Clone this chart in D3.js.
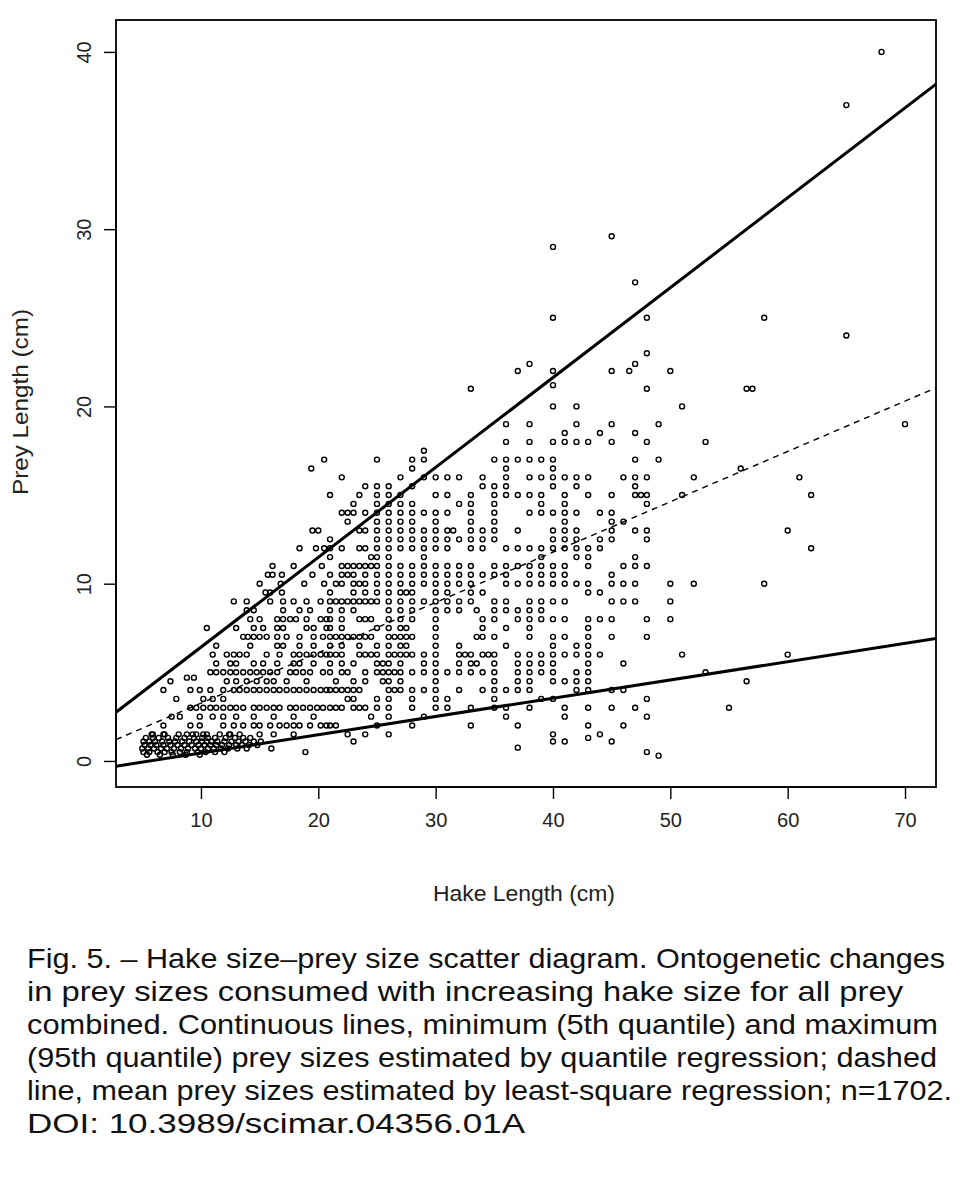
<!DOCTYPE html>
<html><head><meta charset="utf-8">
<script src="https://cdn.jsdelivr.net/npm/d3@7"></script>
<style>
html,body{margin:0;padding:0;background:#fff;}
svg{display:block;}
</style></head>
<body>
<script>
// ---------- DATA ----------
const xTicks = [10, 20, 30, 40, 50, 60, 70];
const yTicks = [0, 10, 20, 30, 40];
const xDomain = [2.76, 72.64];
const yDomain = [-1.47, 41.8];

// regression lines: [intercept, slope]
const q95Coef = [1.35, 0.507];
const q05Coef = [-0.58, 0.103];
const lsCoef  = [0.42, 0.284];

// rows: [prey length, [hake lengths...]]
const blobRows = [
  [1.5, [5.8, 6.9, 8.1, 9.3, 10.2, 11.6, 12.4]],
  [1.3, [5.3, 5.9, 6.4, 7.2, 7.9, 8.6, 9.4, 10.1, 10.6, 11.2, 12.1, 12.9, 13.6, 14.2]],
  [1.1, [5.1, 5.6, 6.1, 6.7, 7.3, 7.8, 8.4, 9.0, 9.6, 10.1, 10.5, 10.9, 11.4, 12.0, 12.6, 13.2, 13.8, 14.5, 15.1]],
  [0.9, [5.2, 5.7, 6.2, 6.8, 7.4, 8.0, 8.6, 9.2, 9.8, 10.3, 10.8, 11.3, 11.8, 12.4, 13.0, 13.5, 14.1, 14.8]],
  [0.7, [5.0, 5.5, 6.0, 6.6, 7.1, 7.7, 8.3, 8.9, 9.5, 10.0, 10.6, 11.1, 11.7, 12.3, 13.1, 13.9, 16.0]],
  [0.5, [5.1, 5.6, 6.3, 6.9, 7.5, 8.2, 8.8, 9.7, 10.4, 11.2, 12.0, 18.9]],
  [0.35,[5.4, 6.5, 7.6, 8.7, 9.9]]
];

const smallHakeRows = [
  [17,  [20.5]],
  [16.5,[19.4]],
  [13,  [19.5, 20]],
  [12,  [18.4, 19.8, 20.5]],
  [11,  [16.1, 17.9, 20.3]],
  [10.5,[15.7, 16.1, 16.9, 19.5]],
  [10,  [15, 16.8, 18.8, 20.5]],
  [9.5, [15.5, 15.9, 16.9]],
  [9,   [12.8, 13.9, 15.9, 17, 17.9, 19, 20.2]],
  [8.5, [13.9, 14.5, 17, 18.4, 19.3]],
  [8,   [14.2, 15, 16.5, 17, 17.6, 18.1, 19, 20.2, 20.7]],
  [7.5, [10.5, 13, 14.5, 15.3, 16.5, 17, 19, 19.6, 20.7]],
  [7,   [13.6, 14, 14.5, 15, 15.6, 16.5, 17.3, 18.4, 19.6, 20.4]],
  [6.5, [11.3, 14.2, 16.5, 17, 18.4, 19.6]],
  [6,   [11, 12.2, 12.8, 13.3, 13.9, 15.6, 16.7, 17.9, 18.4, 19, 19.6, 20.2, 20.7]],
  [5.5, [11.3, 12.5, 13, 14.5, 15.3, 16.5, 17.9, 18.4, 19.6]],
  [5,   [10.8, 11.3, 11.9, 12.5, 13, 13.6, 14.2, 14.75, 15.3, 15.9, 16.5, 17.6, 18.1, 18.7, 19.3, 20.4]],
  [4.7, [8.8, 9.4]],
  [4.5, [7.4, 12.2, 13, 13.9, 14.75, 15.6, 16.2, 17.3, 19]],
  [4,   [6.8, 9.1, 9.9, 10.8, 11.9, 12.8, 13.3, 13.9, 14.5, 15, 15.6, 16.2, 16.7, 17.3, 17.9, 18.4, 19, 19.6, 20.2, 20.7]],
  [3.5, [7.9, 10.2, 11, 11.9]],
  [3,   [9.1, 9.6, 10.2, 10.8, 11.3, 11.9, 12.5, 13, 13.6, 14.5, 15, 15.6, 16.2, 16.7, 17.6, 18.1, 18.7, 19.3, 19.9, 20.4]],
  [2.5, [7.5, 8.2, 9.9, 11, 11.9, 13, 14.5, 16.2, 17.9, 19.6]],
  [2,   [6.8, 9.1, 9.9, 11.9, 12.8, 13.6, 14.5, 15, 15.9, 16.7, 17.3, 17.9, 18.4, 19.3, 20.2, 20.7]],
  [1.5, [5.9, 6.8, 8.8, 9.6, 10.5, 12.5, 13.3, 15, 16.2, 17.9]]
];

const midHakeRows = [
  [22.4,[38]],
  [22,  [37]],
  [21,  [33]],
  [19,  [36, 38]],
  [18,  [36, 38]],
  [17.5,[29]],
  [17,  [25, 28, 29, 35, 36, 37, 38]],
  [16.5,[28, 36]],
  [16,  [22, 27, 29, 30, 31, 32, 34, 36, 38]],
  [15.5,[24, 25, 26, 28, 34, 35, 36]],
  [15,  [21, 23.5, 25, 26, 27, 30, 31, 33, 35, 36, 37, 38]],
  [14.5,[23, 25, 26, 27, 28, 32, 33, 35]],
  [14,  [22, 22.5, 23, 24, 25, 26, 27, 28, 29, 30, 31, 33, 35, 38]],
  [13.5,[22.5, 25, 26, 27, 28, 30, 33, 35]],
  [13,  [23.5, 24, 25, 26, 27, 28, 29, 30, 31, 31.5, 33, 34, 35, 37]],
  [12.5,[21, 25, 26, 27, 28, 29, 30, 31, 32, 33, 34, 35]],
  [12,  [21, 22, 23.5, 24, 25, 26, 27, 28, 29, 30, 31, 33, 34, 36, 37, 38]],
  [11.5,[21, 24.5, 25, 26, 29]],
  [11,  [22, 22.5, 23, 23.5, 24, 24.5, 25, 26, 27, 28, 29, 30, 31, 32, 33, 35, 36, 37, 38]],
  [10.5,[21, 22, 22.5, 23, 24, 25, 26, 27, 28, 29, 30, 31, 32, 33, 34, 35, 36, 38]],
  [10,  [21.5, 22, 23, 23.5, 24, 25, 26, 27, 28, 29, 30, 31, 32, 33, 36, 37, 38]],
  [9.5, [21, 23, 24, 25, 26, 27, 27.5, 28, 30, 31, 33, 34]],
  [9,   [21, 21.5, 22, 22.5, 23, 23.5, 24, 24.5, 25, 26, 27, 28, 29, 30, 31, 32, 33, 35, 36, 38]],
  [8.5, [21, 22, 23, 26, 27, 28, 30, 31, 32, 33.5, 35, 36, 37, 38]],
  [8,   [21, 22, 23.5, 24, 24.5, 26, 27, 28, 30, 34, 35, 37, 38]],
  [7.5, [21, 22, 25, 26, 27, 27.5, 30, 34, 36, 38]],
  [7,   [21, 21.5, 22, 22.5, 23, 23.5, 24, 24.5, 26, 26.5, 27, 27.5, 28, 30, 33.5, 34, 35, 38]],
  [6.5, [21, 22, 23.5, 25, 26, 27, 27.5, 30, 32, 36]],
  [6,   [21, 21.5, 22, 23.5, 24, 24.5, 25, 26, 26.5, 27, 27.5, 28, 29, 30, 32, 32.5, 33, 34, 34.5, 35, 37, 38]],
  [5.5, [21, 22, 23, 25, 25.5, 26, 27, 29, 30, 32, 33, 33.5, 35, 37, 38]],
  [5,   [21, 22, 22.5, 24, 25, 25.5, 26, 26.5, 27, 28, 29, 30, 31, 32, 33, 34, 35, 37, 38]],
  [4.5, [21.5, 23, 24, 25.5, 26, 27, 30, 35, 37, 38]],
  [4,   [21, 21.5, 22, 22.5, 23, 23.5, 26, 26.5, 27, 28, 29, 30, 32, 34, 35, 36, 37, 38]],
  [3.5, [22.5, 23, 25, 26, 28, 30, 31, 35]],
  [3,   [21, 21.5, 22, 23, 23.5, 24, 25, 26, 28, 30, 31, 33, 35, 36, 38]],
  [2.5, [24.5, 26, 29, 36]],
  [2,   [21, 21.5, 25, 28, 33, 37]],
  [1.5, [22.5, 24, 26]],
  [1.1, [23]],
  [0.75,[37]]
];

const largeHakeRows = [
  [40,  [68]],
  [37,  [65]],
  [29.6,[45]],
  [29,  [40]],
  [27,  [47]],
  [25,  [40, 48, 58]],
  [24,  [65]],
  [23,  [48]],
  [22.4,[47]],
  [22,  [40, 45, 46.5, 50]],
  [21.2,[40]],
  [21,  [48, 56.5, 57]],
  [20,  [40, 42, 51]],
  [19,  [42, 45, 49, 70]],
  [18.5,[41, 44, 47]],
  [18,  [40, 41, 42, 43, 45, 48, 53]],
  [17,  [39, 40, 47, 49]],
  [16.5,[40, 56]],
  [16,  [39, 40, 41, 42, 43, 46, 47, 48, 52, 61]],
  [15.5,[40, 42, 47]],
  [15,  [39, 41, 43, 45, 47, 47.5, 48, 51, 62]],
  [14.5,[39, 41, 48]],
  [14,  [39, 40, 41, 42, 44, 45]],
  [13.5,[41, 45, 46]],
  [13,  [40, 41, 42, 45, 47, 48, 60]],
  [12.5,[40, 41, 42, 44, 45, 48]],
  [12,  [39, 40, 41, 42, 43, 44, 62]],
  [11.5,[39, 42, 43, 47]],
  [11,  [39, 40, 41, 43, 46, 47, 48]],
  [10.5,[39, 40, 41, 45]],
  [10,  [39, 40, 41, 42, 43, 45, 46, 47, 50, 52, 58]],
  [9.5, [43, 44]],
  [9,   [39, 40, 41, 45, 46, 47, 50]],
  [8.5, [39]],
  [8,   [39, 40, 41, 43, 44, 45, 48, 50]],
  [7.5, [43]],
  [7,   [40, 41, 43, 45, 48]],
  [6.5, [40, 42, 43]],
  [6,   [39, 40, 41, 42, 43, 44, 51, 60]],
  [5.5, [39, 40, 43, 46]],
  [5,   [39, 40, 42, 43, 53]],
  [4.5, [40, 41, 42, 43, 56.5]],
  [4,   [42, 43, 45, 46]],
  [3.5, [39, 40, 48]],
  [3,   [41, 43, 45, 47, 55]],
  [2.5, [41, 48]],
  [2,   [43, 46]],
  [1.5, [40, 44]],
  [1.3, [43]],
  [1.1, [40, 41, 45]],
  [0.5, [48]],
  [0.3, [49]]
];

const xTitle = "Hake Length (cm)";
const yTitle = "Prey Length (cm)";
const captionLines = [
  "Fig. 5. \u2013 Hake size\u2013prey size scatter diagram. Ontogenetic changes",
  "in prey sizes consumed with increasing hake size for all prey",
  "combined. Continuous lines, minimum (5th quantile) and maximum",
  "(95th quantile) prey sizes estimated by quantile regression; dashed",
  "line, mean prey sizes estimated by least-square regression; n=1702.",
  "DOI: 10.3989/scimar.04356.01A"
];
// measured widths of each caption line in the reference (px)
const captionWidths = [918, 876, 911, 910, 925, 498];

// ---------- DRAW ----------
const W = 963, H = 1177;
const box = {left: 116, right: 936, top: 20, bottom: 787};

const svg = d3.select("body").append("svg").attr("width", W).attr("height", H);

const x = d3.scaleLinear().domain(xDomain).range([box.left, box.right]);
const y = d3.scaleLinear().domain(yDomain).range([box.bottom, box.top]);

const points = [];
[blobRows, smallHakeRows, midHakeRows, largeHakeRows].forEach(rows =>
  rows.forEach(([prey, hakes]) => hakes.forEach(h => points.push([h, prey]))));

svg.append("defs").append("clipPath").attr("id", "plotclip")
  .append("rect").attr("x", box.left).attr("y", box.top)
  .attr("width", box.right - box.left).attr("height", box.bottom - box.top);

// points
svg.append("g").selectAll("circle").data(points).join("circle")
  .attr("cx", d => x(d[0])).attr("cy", d => y(d[1])).attr("r", 2.5)
  .attr("fill", "none").attr("stroke", "#000").attr("stroke-width", 1.4);

// lines
const lineGen = d3.line().x(d => x(d[0])).y(d => y(d[1]));
const fitData = coef => xDomain.map(v => [v, coef[0] + coef[1] * v]);
const lg = svg.append("g").attr("clip-path", "url(#plotclip)");
lg.append("path").attr("d", lineGen(fitData(q95Coef))).attr("fill", "none")
  .attr("stroke", "#000").attr("stroke-width", 3);
lg.append("path").attr("d", lineGen(fitData(q05Coef))).attr("fill", "none")
  .attr("stroke", "#000").attr("stroke-width", 3);
lg.append("path").attr("d", lineGen(fitData(lsCoef))).attr("fill", "none")
  .attr("stroke", "#000").attr("stroke-width", 1.4).attr("stroke-dasharray", "6,5");

// box
svg.append("rect").attr("x", box.left).attr("y", box.top)
  .attr("width", box.right - box.left).attr("height", box.bottom - box.top)
  .attr("fill", "none").attr("stroke", "#000").attr("stroke-width", 1.8);

// axes
const fontFam = "'Liberation Sans', Arial, Helvetica, sans-serif";
const xAxis = d3.axisBottom(x).tickValues(xTicks).tickSize(12).tickPadding(14).tickSizeOuter(0);
const gx = svg.append("g").attr("transform", `translate(0,${box.bottom})`).call(xAxis);
gx.select(".domain").attr("d", `M${x(xTicks[0])},0H${x(xTicks[xTicks.length-1])}`).attr("stroke-width", 1.4);
gx.selectAll(".tick line").attr("stroke-width", 1.4);
gx.selectAll(".tick text").attr("font-family", fontFam).attr("font-size", 20).attr("fill", "#222");

const yAxis = d3.axisLeft(y).tickValues(yTicks).tickSize(12).tickSizeOuter(0);
const gy = svg.append("g").attr("transform", `translate(${box.left},0)`).call(yAxis);
gy.select(".domain").attr("d", `M0,${y(yTicks[0])}V${y(yTicks[yTicks.length-1])}`).attr("stroke-width", 1.4);
gy.selectAll(".tick line").attr("stroke-width", 1.4);
gy.selectAll(".tick text")
  .attr("font-family", fontFam).attr("font-size", 20).attr("fill", "#222")
  .attr("x", null).attr("dy", null)
  .attr("text-anchor", "middle")
  .attr("transform", "translate(-32,0) rotate(-90)")
  .attr("dy", "0.35em");

// axis titles
svg.append("text").attr("x", 524).attr("y", 901).attr("text-anchor", "middle")
  .attr("font-family", fontFam).attr("font-size", 22).attr("fill", "#222")
  .attr("textLength", 182).attr("lengthAdjust", "spacingAndGlyphs").text(xTitle);
svg.append("text").attr("transform", "translate(28,402) rotate(-90)").attr("text-anchor", "middle")
  .attr("font-family", fontFam).attr("font-size", 22).attr("fill", "#222")
  .attr("textLength", 186).attr("lengthAdjust", "spacingAndGlyphs").text(yTitle);

// caption
const cap = svg.append("g");
captionLines.forEach((t, i) => {
  cap.append("text").attr("x", 27).attr("y", 968 + i * 33)
    .attr("font-family", fontFam).attr("font-size", 28.5).attr("fill", "#111")
    .attr("textLength", captionWidths[i]).attr("lengthAdjust", "spacingAndGlyphs")
    .text(t);
});
</script>
</body></html>
